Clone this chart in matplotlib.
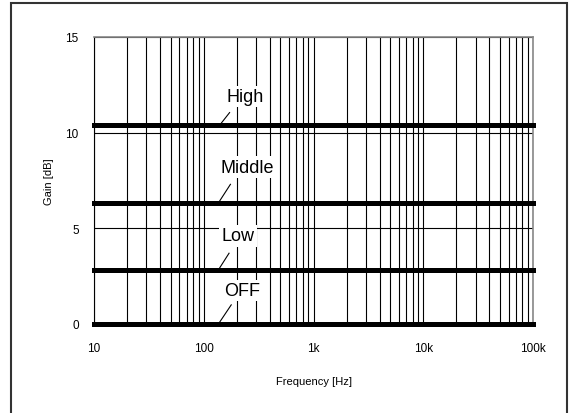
import matplotlib
matplotlib.use('Agg')
import matplotlib.pyplot as plt
from matplotlib.patches import Rectangle

plt.rcParams['font.family'] = ['Liberation Sans', 'DejaVu Sans']

# Data
freq = [10, 100000]
modes = ['High', 'Middle', 'Low', 'OFF']
gains = [10.4, 6.3, 2.8, 0.0]
# label text positions (freq, gain) and leader start (freq)
label_pos = [(238, 11.9), (250, 8.2), (205, 4.6), (225, 1.75)]
leader_from = [140, 135, 135, 136]
leader_to = [(172, 11.05), (175, 7.3), (170, 3.7), (178, 1.0)]

fig = plt.figure(figsize=(5.73, 4.14), dpi=100)
ax = fig.add_axes([94/573, 89/414, 439/573, 287/414])

# outer frame
fig.patches.append(Rectangle((11/573, -0.05), 556/573, 1.04, transform=fig.transFigure,
                             fill=False, edgecolor='#333333', linewidth=1.5))

ax.set_xscale('log')
ax.set_xlim(10, 100000)
ax.set_ylim(0, 15)
ax.set_yticks([0, 5, 10, 15])
ax.set_xticks([10, 100, 1000, 10000, 100000])
ax.set_xticklabels(['10', '100', '1k', '10k', '100k'])
ax.minorticks_on()
ax.tick_params(axis='both', which='both', length=0, labelsize=8.5)
ax.tick_params(axis='x', pad=13)
ax.tick_params(axis='y', pad=11)
ax.yaxis.set_minor_locator(plt.NullLocator())

ax.grid(True, which='both', axis='x', color='black', linewidth=0.8)
ax.grid(True, which='major', axis='y', color='black', linewidth=0.8)
ax.set_axisbelow(True)

for s in ['top', 'right']:
    ax.spines[s].set_color('#888888')
    ax.spines[s].set_linewidth(1.2)
ax.spines['left'].set_color('black')
ax.spines['bottom'].set_color('black')

for name, g, (tx, ty), lf, (ex, ey) in zip(modes, gains, label_pos, leader_from, leader_to):
    ax.plot(freq, [g, g], color='black', linewidth=3.6,
            solid_capstyle='projecting', clip_on=False, zorder=3)
    ax.plot([lf, ex], [g, ey], color='black', linewidth=0.8, zorder=4)
    ax.text(tx, ty, name, fontsize=13, ha='center', va='center', zorder=5,
            bbox=dict(facecolor='white', edgecolor='none', pad=1.5))

ax.set_xlabel('Frequency [Hz]', fontsize=8, labelpad=16)
ax.set_ylabel('Gain [dB]', fontsize=8, labelpad=8)

fig.savefig('out.png', dpi=100)
